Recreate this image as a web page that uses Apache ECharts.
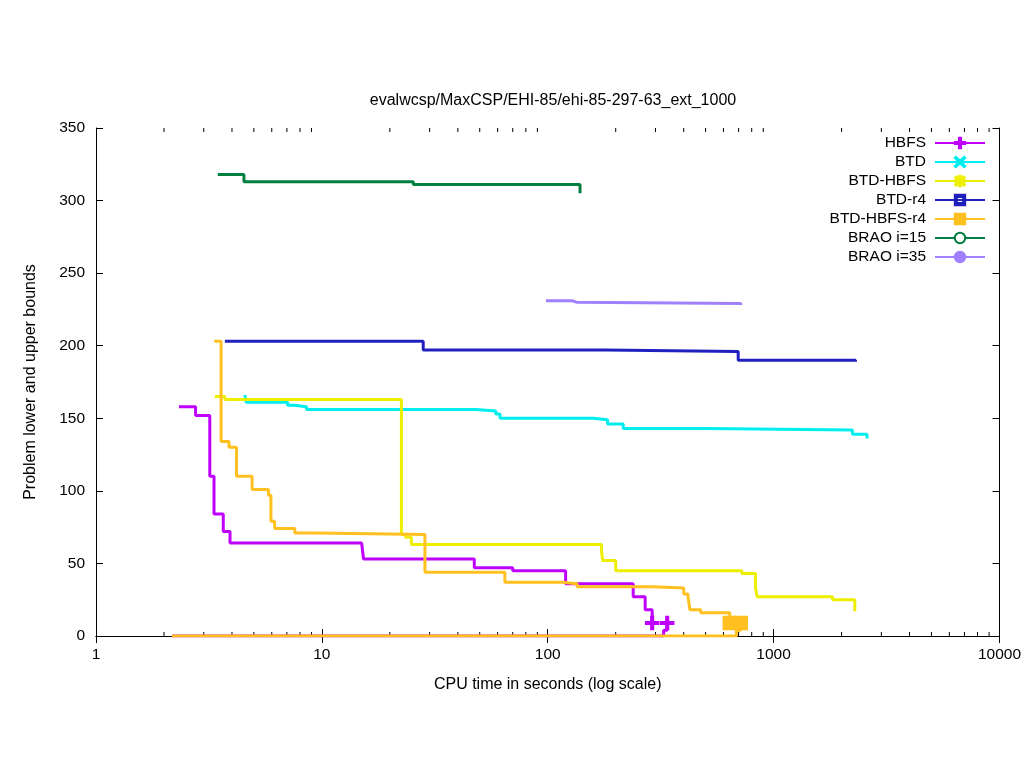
<!DOCTYPE html>
<html>
<head>
    <meta charset="utf-8">
    <title>ehi-85-297-63_ext_1000</title>
    <script src="https://cdn.jsdelivr.net/npm/echarts@6/dist/echarts.min.js"></script>
</head>
<body style="margin:0;">
    <div id="main" style="width:1024px;height:768px;"></div>
    <script>
        // [cpu seconds, bound]
        var hbfsUpper = [[2.33, 158], [2.76, 152], [3.19, 110], [3.33, 84], [3.66, 72], [3.92, 64], [15.0, 63], [15.3, 53],
            [47.3, 47], [70, 45], [120, 36], [239, 27], [270, 18], [290, 9]];
        var hbfsLower = [[2.17, 0], [318, 0], [326, 4], [338, 9]];
        var btdUpper = [[4.56, 166], [4.62, 161], [7.05, 159], [7.54, 158], [8.55, 156], [48, 155], [58.9, 153], [61.5, 150],
            [159, 149], [184, 146], [216, 143], [502, 142], [2233, 139], [2593, 136]];
        var btdHbfsUpper = [[3.36, 165], [3.72, 163], [22.5, 70], [23.5, 68], [24.9, 63], [173, 59], [175, 52], [200, 45],
            [724, 43], [832, 33], [846, 27], [1824, 25], [2288, 17]];
        var btdR4Upper = [[3.72, 203], [28.1, 197], [180, 196], [697, 190], [2305, 189]];
        var btdHbfsR4Upper = [[3.34, 203], [3.58, 134], [3.88, 130], [4.19, 110], [4.91, 101], [5.80, 97], [5.95, 79],
            [6.18, 74], [7.59, 71], [9.44, 70], [28.6, 44], [64.6, 37], [116, 36], [135, 34], [290, 33], [400, 29],
            [418, 27], [426, 18], [476, 16], [640, 9]];
        var btdHbfsR4Lower = [[2.17, 0], [655, 0], [685, 4], [715, 9]];
        var brao15Upper = [[3.46, 318], [4.52, 313], [25.4, 311], [139, 305]];
        var brao35Upper = [[98.2, 231], [128, 230], [134, 229], [716, 228]];

        var seriesNames = ['HBFS', 'BTD', 'BTD-HBFS', 'BTD-r4', 'BTD-HBFS-r4', 'BRAO i=15', 'BRAO i=35'];
        var seriesColors = ['#c000ff', '#00eeee', '#eeee00', '#2020c0', '#ffc020', '#008040', '#a080ff'];
        var seriesSymbols = [
            'path://M4,0H6V4H10V6H6V10H4V6H0V4H4Z',
            'path://M1,0L5,3.6L9,0L10,1L6.4,5L10,9L9,10L5,6.4L1,10L0,9L3.6,5L0,1Z',
            'path://M4.2,0H5.8V3.1L8.8,0.5L9.6,1.5L6.5,4.2H10V5.8H6.5L9.6,8.5L8.8,9.5L5.8,6.9V10H4.2V6.9L1.2,9.5L0.4,8.5L3.5,5.8H0V4.2H3.5L0.4,1.5L1.2,0.5L4.2,3.1Z',
            'path://M0,0H10V10H0Z M2,2V8H8V2Z',
            'rect',
            'emptyCircle',
            'circle'
        ];
        var xMinorTicks = [];
        [1, 10, 100, 1000].forEach(function (d) {
            for (var k = 2; k < 10; k++) xMinorTicks.push([d * k, 0]);
        });

        var FONT = 'Liberation Sans, Arial, sans-serif';

        var chartDom = document.getElementById('main');
        var myChart = echarts.init(chartDom);

        // draw a symbol only at the final point of each run
        function lastOnly(size, len) {
            return function (value, params) {
                return params.dataIndex === len - 1 ? size : 0;
            };
        }

        function boundSeries(idx, data, marked) {
            return {
                name: seriesNames[idx],
                type: 'line',
                step: 'end',
                data: data,
                symbol: seriesSymbols[idx],
                symbolSize: marked ? lastOnly(13, data.length) : 0,
                showSymbol: true,
                lineStyle: { color: seriesColors[idx], width: 3 },
                itemStyle: { color: seriesColors[idx], borderColor: seriesColors[idx], borderWidth: 1.5 },
                emphasis: { disabled: true },
                animation: false,
                z: 3
            };
        }

        function renderMinorTick(params, api) {
            var x = api.coord([api.value(0), 1])[0];
            var cs = params.coordSys;
            var style = { stroke: '#000', lineWidth: 1 };
            return {
                type: 'group',
                children: [
                    { type: 'line', shape: { x1: x, y1: cs.y + cs.height, x2: x, y2: cs.y + cs.height - 4 }, style: style },
                    { type: 'line', shape: { x1: x, y1: cs.y, x2: x, y2: cs.y + 4 }, style: style }
                ]
            };
        }

        var axisCommon = {
            axisLine: { show: true, lineStyle: { color: '#000', width: 1 } },
            axisTick: { show: true, inside: true, length: 7, lineStyle: { color: '#000' } },
            splitLine: { show: false }
        };

        var option = {
            backgroundColor: '#fff',
            animation: false,
            title: {
                text: 'evalwcsp/MaxCSP/EHI-85/ehi-85-297-63_ext_1000',
                left: 548,
                textAlign: 'center',
                top: 88,
                textStyle: { fontFamily: FONT, fontSize: 16, fontWeight: 'normal', color: '#000' }
            },
            legend: {
                data: seriesNames,
                orient: 'vertical',
                right: 38,
                top: 135,
                padding: 0,
                align: 'right',
                itemWidth: 50,
                itemHeight: 13,
                itemGap: 3,
                textStyle: { fontFamily: FONT, fontSize: 15.5, color: '#000', padding: [0, 4, 0, 0] },
                selectedMode: false
            },
            grid: { left: 96, right: 23, top: 128, bottom: 132 },
            xAxis: [
                Object.assign({
                    type: 'log',
                    logBase: 10,
                    min: 1,
                    max: 10000,
                    position: 'bottom',
                    name: 'CPU time in seconds (log scale)',
                    nameLocation: 'middle',
                    nameGap: 41,
                    nameTextStyle: { fontFamily: FONT, fontSize: 16, color: '#000' },
                    axisLabel: {
                        fontFamily: FONT, fontSize: 15.5, color: '#000', margin: 11,
                        formatter: function (v) { return String(v); }
                    }
                }, axisCommon),
                Object.assign({
                    type: 'log',
                    logBase: 10,
                    min: 1,
                    max: 10000,
                    position: 'top',
                    axisLabel: { show: false }
                }, axisCommon)
            ],
            yAxis: [
                Object.assign({
                    type: 'value',
                    min: 0,
                    max: 350,
                    interval: 50,
                    position: 'left',
                    name: 'Problem lower and upper bounds',
                    nameLocation: 'middle',
                    nameGap: 57,
                    nameTextStyle: { fontFamily: FONT, fontSize: 16, color: '#000' },
                    axisLabel: { fontFamily: FONT, fontSize: 15.5, color: '#000', margin: 11 }
                }, axisCommon),
                Object.assign({
                    type: 'value',
                    min: 0,
                    max: 350,
                    interval: 50,
                    position: 'right',
                    axisLabel: { show: false }
                }, axisCommon)
            ],
            series: [
                boundSeries(0, hbfsUpper, true),
                boundSeries(0, hbfsLower, true),
                boundSeries(1, btdUpper, false),
                boundSeries(2, btdHbfsUpper, false),
                boundSeries(3, btdR4Upper, false),
                boundSeries(4, btdHbfsR4Upper, true),
                boundSeries(4, btdHbfsR4Lower, true),
                boundSeries(5, brao15Upper, false),
                boundSeries(6, brao35Upper, false),
                {
                    type: 'custom',
                    renderItem: renderMinorTick,
                    data: xMinorTicks,
                    silent: true,
                    clip: false,
                    z: 1
                }
            ]
        };

        myChart.setOption(option);
    </script>
</body>
</html>
